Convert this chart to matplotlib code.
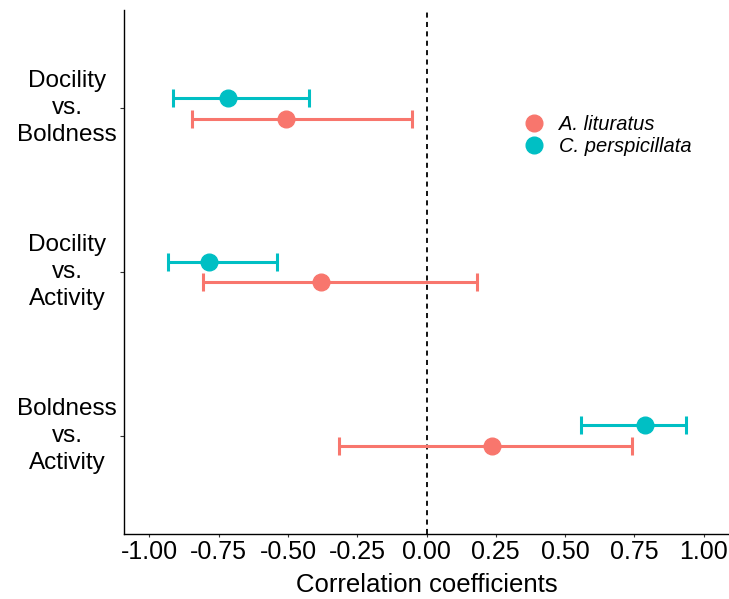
import matplotlib
matplotlib.use("Agg")
import matplotlib.pyplot as plt
import numpy as np

plt.rcParams['font.family'] = ['Liberation Sans', 'DejaVu Sans']

# Trait pairs (top to bottom)
pairs = ["Docility\nvs.\nBoldness", "Docility\nvs.\nActivity", "Boldness\nvs.\nActivity"]

# Correlation estimates with 95% intervals
species = ["A. lituratus", "C. perspicillata"]
colors = ["#F8766D", "#00BFC4"]

lit_est = [-0.508, -0.381, 0.235]
lit_lo = [-0.848, -0.808, -0.315]
lit_hi = [-0.053, 0.181, 0.743]

per_est = [-0.716, -0.785, 0.789]
per_lo = [-0.914, -0.934, 0.557]
per_hi = [-0.423, -0.541, 0.936]

xticks = [-1.00, -0.75, -0.50, -0.25, 0.00, 0.25, 0.50, 0.75, 1.00]

fig = plt.figure(figsize=(7.29, 5.99), dpi=100)
ax = fig.add_axes([124 / 729, 1 - 534 / 599, 1 - 124 / 729, 524 / 599])

ypos = np.arange(len(pairs))[::-1].astype(float)
dodge = 0.064

series = [
    (lit_est, lit_lo, lit_hi, -dodge),
    (per_est, per_lo, per_hi, +dodge),
]
for (est, lo, hi, off), col, name in zip(series, colors, species):
    est = np.array(est)
    xerr = np.vstack([est - np.array(lo), np.array(hi) - est])
    ax.errorbar(est, ypos + off, xerr=xerr, fmt='o', color=col, ecolor=col,
                elinewidth=2.2, capsize=6.3, capthick=2.2, markersize=12,
                markeredgecolor=col, label=name, zorder=3)

ax.axvline(0, color='black', linestyle=(0, (2.8, 2.4)), linewidth=1.3, zorder=2)

ax.set_xlim(-1.092, 1.092)
ax.set_ylim(-0.6, len(pairs) - 1 + 0.6)
ax.set_xticks(xticks)
ax.set_xticklabels([f"{v:.2f}" for v in xticks], fontsize=18)
ax.set_yticks(ypos)
ax.set_yticklabels(pairs, fontsize=17.5, ha='center', va='center', linespacing=1.28)
ax.tick_params(axis='y', pad=38, length=3, width=0.8, colors='#333333', labelcolor='black')
ax.tick_params(axis='x', pad=1.5, length=2.5, width=0.8, colors='#333333', labelcolor='black')

for s in ['top', 'right']:
    ax.spines[s].set_visible(False)
for s in ['left', 'bottom']:
    ax.spines[s].set_linewidth(1.0)

ax.set_xlabel("Correlation coefficients", fontsize=18.5, labelpad=7)

handles = [plt.Line2D([], [], marker='o', linestyle='', color=c, markersize=12,
                      markeredgecolor=c) for c in colors]
leg = ax.legend(handles, species, loc='upper left', bbox_to_anchor=(0.628, 0.834),
                frameon=False, fontsize=14.5, handletextpad=0.65, labelspacing=0.15,
                handlelength=1.2)
for t in leg.get_texts():
    t.set_fontstyle('italic')

fig.savefig("out.png", dpi=100)
